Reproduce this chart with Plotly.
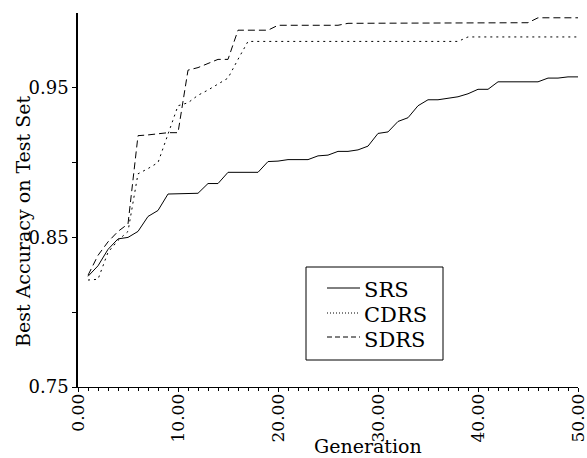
import plotly.graph_objects as go

# ---------------- data ----------------
generations = list(range(1, 51))

srs = [0.824, 0.831, 0.842, 0.849, 0.850, 0.854, 0.864, 0.868, 0.879, 0.879,
       0.879, 0.8795, 0.886, 0.886, 0.8935, 0.8935, 0.8935, 0.8935, 0.9007, 0.901,
       0.902, 0.902, 0.902, 0.9045, 0.905, 0.9075, 0.9075, 0.9085, 0.911, 0.9195,
       0.9205, 0.9275, 0.930, 0.938, 0.942, 0.942, 0.943, 0.944, 0.946, 0.949,
       0.949, 0.954, 0.954, 0.954, 0.954, 0.954, 0.9565, 0.9565, 0.9573, 0.9573]

cdrs = [0.8215, 0.822, 0.840, 0.848, 0.854, 0.8925, 0.896, 0.900, 0.919, 0.938,
        0.940, 0.945, 0.9485, 0.9524, 0.9565, 0.969, 0.981, 0.981, 0.981, 0.981,
        0.981, 0.981, 0.981, 0.981, 0.981, 0.981, 0.981, 0.981, 0.981, 0.981,
        0.981, 0.981, 0.981, 0.981, 0.981, 0.981, 0.981, 0.981, 0.984, 0.984,
        0.984, 0.984, 0.984, 0.984, 0.984, 0.984, 0.984, 0.984, 0.984, 0.984]

sdrs = [0.8247, 0.838, 0.847, 0.854, 0.859, 0.918, 0.9185, 0.9195, 0.920, 0.920,
        0.9618, 0.9635, 0.9664, 0.969, 0.969, 0.9885, 0.9885, 0.9885, 0.9885, 0.9918,
        0.9918, 0.9918, 0.9918, 0.9918, 0.9918, 0.9918, 0.9931, 0.9931, 0.9931, 0.9931,
        0.9931, 0.9931, 0.9935, 0.9935, 0.9935, 0.9935, 0.9935, 0.9935, 0.9935, 0.9935,
        0.9935, 0.9935, 0.9935, 0.9935, 0.9935, 0.9968, 0.9968, 0.9968, 0.9968, 0.9968]

series_names = ["SRS", "CDRS", "SDRS"]
series_values = [srs, cdrs, sdrs]

x_tick_vals = [0, 10, 20, 30, 40, 50]
x_tick_text = ["0.00", "10.00", "20.00", "30.00", "40.00", "50.00"]
y_tick_vals = [0.75, 0.80, 0.85, 0.90, 0.95]
y_tick_text = ["0.75", "", "0.85", "", "0.95"]

x_title = "Generation"
y_title = "Best Accuracy on Test Set"

# ---------------- style ----------------
FONT = "DejaVu Serif"
W, H = 587, 458
L, R, T, B = 78, 9, 13, 71
PW, PH = W - L - R, H - T - B

line_dash = ["solid", "2px,4px", "7px,4px"]
legend_dash = ["solid", "1px,2px", "5px,3px"]


def px2x(px):
    return (px - L) / PW


def px2y(py):
    return (H - B - py) / PH


fig = go.Figure()
for name, vals, dash in zip(series_names, series_values, line_dash):
    fig.add_trace(go.Scatter(x=generations, y=vals, mode="lines", name=name,
                             line=dict(color="black", width=1, dash=dash),
                             showlegend=False))

shapes = []
annotations = []

# legend box drawn by hand (tight line spacing as in the reference)
shapes.append(dict(type="rect", xref="paper", yref="paper",
                   x0=px2x(306), x1=px2x(443), y0=px2y(360), y1=px2y(267),
                   line=dict(color="black", width=1), fillcolor="white", layer="above"))
leg_line_y = [288, 313, 337]
leg_text_y = [290, 315, 340]
for name, dash, ly, ty in zip(series_names, legend_dash, leg_line_y, leg_text_y):
    shapes.append(dict(type="line", xref="paper", yref="paper",
                       x0=px2x(327), x1=px2x(360), y0=px2y(ly), y1=px2y(ly),
                       line=dict(color="black", width=1, dash=dash), layer="above"))
    annotations.append(dict(text=name, xref="paper", yref="paper",
                            x=px2x(362), y=px2y(ty), xanchor="left", yanchor="middle",
                            showarrow=False, font=dict(family=FONT, size=21, color="black")))

annotations.append(dict(text=x_title, xref="paper", yref="paper",
                        x=px2x(367.5), y=px2y(446), xanchor="center", yanchor="middle",
                        showarrow=False, font=dict(family=FONT, size=19, color="black")))
annotations.append(dict(text=y_title, xref="paper", yref="paper", textangle=-90,
                        x=px2x(23), y=px2y(221), xanchor="center", yanchor="middle",
                        showarrow=False, font=dict(family=FONT, size=19, color="black")))

fig.update_layout(
    width=W, height=H,
    margin=dict(l=L, r=R, t=T, b=B, pad=0),
    paper_bgcolor="white", plot_bgcolor="white",
    font=dict(family=FONT, color="black"),
    shapes=shapes, annotations=annotations,
    showlegend=False,
)
fig.update_xaxes(range=[0, 50], tickvals=x_tick_vals, ticktext=x_tick_text,
                 tickangle=-90, ticks="outside", ticklen=4, tickwidth=1, tickcolor="black",
                 minor=dict(dtick=1, ticks="outside", ticklen=3, tickcolor="black", tickwidth=1),
                 showline=True, linecolor="black", linewidth=1, showgrid=False,
                 zeroline=False, ticklabeloverflow="allow", ticklabelstandoff=-5,
                 automargin=False,
                 tickfont=dict(family=FONT, size=17, color="black"))
fig.update_yaxes(range=[0.75, 1.0], tickvals=y_tick_vals, ticktext=y_tick_text,
                 ticks="outside", ticklen=4, tickwidth=1, tickcolor="black",
                 showline=True, linecolor="black", linewidth=1.5, showgrid=False,
                 zeroline=False, automargin=False,
                 tickfont=dict(family=FONT, size=18, color="black"))

fig.write_html("out.html")
